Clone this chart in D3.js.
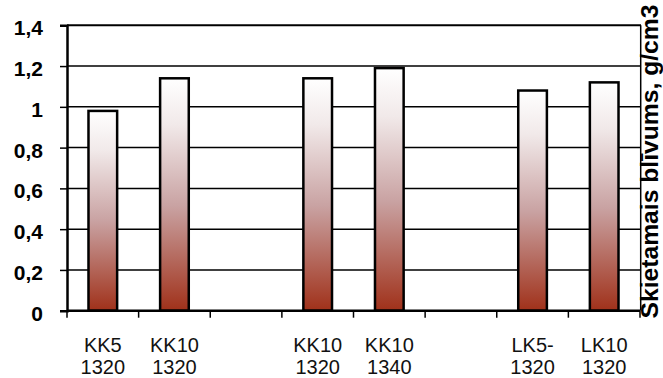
<!DOCTYPE html>
<html>
<head>
<meta charset="utf-8">
<script src="https://cdn.jsdelivr.net/npm/d3@7/dist/d3.min.js"></script>
<style>
  html, body { margin: 0; padding: 0; background: #fff; }
  svg { display: block; font-family: "Liberation Sans", Arial, sans-serif; }
</style>
</head>
<body>
<svg id="chart" width="663" height="378"></svg>
<script>
// Sample labels (two lines each); empty slots separate the groups
const labelTop    = ["KK5", "KK10", "", "KK10", "KK10", "", "LK5-", "LK10"];
const labelBottom = ["1320", "1320", "", "1320", "1340", "", "1320", "1320"];
// Bulk density, g/cm3 (null = empty slot)
const density = [0.98, 1.14, null, 1.14, 1.19, null, 1.08, 1.12];
const yTicks = [0, 0.2, 0.4, 0.6, 0.8, 1.0, 1.2, 1.4];
const axisTitle = "Skietamais blīvums, g/cm3";

const svg = d3.select("#chart");
const plotLeft = 67, plotRight = 640, plotTop = 25.3, plotBottom = 310.7;

const x = d3.scaleBand()
  .domain(d3.range(density.length))
  .range([plotLeft, plotRight])
  .paddingInner(0.6)
  .paddingOuter(0.3);

const y = d3.scaleLinear().domain([0, 1.4]).range([plotBottom, plotTop]);

const lv = d3.formatLocale({decimal: ",", thousands: " ", grouping: [3], currency: ["", ""]});
const fmt = lv.format("~g");

// gradient fill for bars: white on top, dark red-brown at the base
const defs = svg.append("defs");
const grad = defs.append("linearGradient")
  .attr("id", "barGrad").attr("x1", 0).attr("y1", 0).attr("x2", 0).attr("y2", 1);
grad.append("stop").attr("offset", "0%").attr("stop-color", "#ffffff");
grad.append("stop").attr("offset", "20%").attr("stop-color", "#f1e9e9");
grad.append("stop").attr("offset", "55%").attr("stop-color", "#c9a2a2");
grad.append("stop").attr("offset", "100%").attr("stop-color", "#a0311a");

// horizontal gridlines
svg.append("g").selectAll("line")
  .data(yTicks.filter(d => d > 0 && d < 1.4))
  .join("line")
  .attr("x1", plotLeft).attr("x2", plotRight)
  .attr("y1", d => y(d)).attr("y2", d => y(d))
  .attr("stroke", "#000").attr("stroke-width", 1.5);

// top and right frame
svg.append("line").attr("x1", plotLeft).attr("x2", plotRight + 1)
  .attr("y1", y(1.4)).attr("y2", y(1.4))
  .attr("stroke", "#000").attr("stroke-width", 2);
svg.append("line").attr("x1", plotRight + 0.7).attr("x2", plotRight + 0.7)
  .attr("y1", y(1.4)).attr("y2", plotBottom)
  .attr("stroke", "#000").attr("stroke-width", 1.5);

// bars
svg.append("g").selectAll("rect")
  .data(density.map((v, i) => ({i, v})).filter(d => d.v != null))
  .join("rect")
  .attr("x", d => x(d.i))
  .attr("width", x.bandwidth())
  .attr("y", d => y(d.v))
  .attr("height", d => y(0) - y(d.v))
  .attr("fill", "url(#barGrad)")
  .attr("stroke", "#000").attr("stroke-width", 2.5);

// y axis
const yAxis = svg.append("g")
  .attr("transform", `translate(${plotLeft},0)`)
  .call(d3.axisLeft(y).tickValues(yTicks).tickFormat(fmt).tickSize(7).tickPadding(17));
yAxis.select(".domain").attr("stroke-width", 2.5);
yAxis.selectAll(".tick line").attr("stroke-width", 1.5);
yAxis.selectAll(".tick text")
  .attr("font-family", "Liberation Sans, Arial, sans-serif")
  .attr("font-size", 21).attr("font-weight", "bold").attr("fill", "#000")
  .attr("dy", "0.45em");

// x axis with ticks at slot boundaries
const step = x.step();
const bounds = d3.range(density.length + 1).map(i => plotLeft + i * step);
svg.append("line").attr("x1", plotLeft).attr("x2", plotRight)
  .attr("y1", plotBottom).attr("y2", plotBottom)
  .attr("stroke", "#000").attr("stroke-width", 2.5);
svg.append("g").selectAll("line")
  .data(bounds)
  .join("line")
  .attr("x1", d => d).attr("x2", d => d)
  .attr("y1", plotBottom).attr("y2", plotBottom + 7)
  .attr("stroke", "#000").attr("stroke-width", 1.5);

// category labels
const lab = svg.append("g").selectAll("text")
  .data(d3.range(density.length).filter(i => labelTop[i] !== ""))
  .join("text")
  .attr("text-anchor", "middle")
  .attr("font-size", 20)
  .attr("fill", "#111");
lab.append("tspan")
  .attr("x", i => x(i) + x.bandwidth() / 2).attr("y", 352)
  .text(i => labelTop[i]);
lab.append("tspan")
  .attr("x", i => x(i) + x.bandwidth() / 2).attr("y", 374)
  .text(i => labelBottom[i]);

// axis title on the right side
svg.append("text")
  .attr("transform", "translate(658,161.5) rotate(-90)")
  .attr("text-anchor", "middle")
  .attr("font-size", 23).attr("font-weight", "bold")
  .attr("textLength", 314).attr("lengthAdjust", "spacingAndGlyphs")
  .attr("fill", "#000")
  .text(axisTitle);
</script>
</body>
</html>
